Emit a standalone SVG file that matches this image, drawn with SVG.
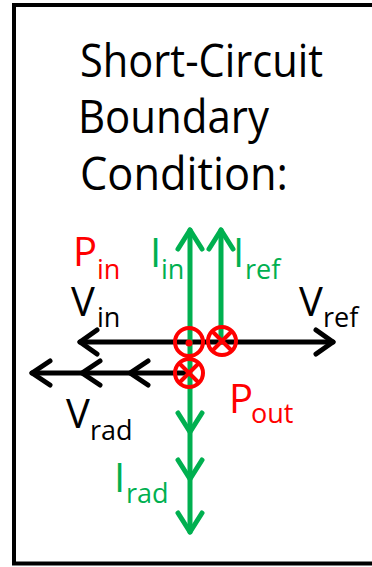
<svg xmlns="http://www.w3.org/2000/svg" width="372" height="567" viewBox="0 0 372 567">
  <style>
    .t { font-family: "Open Sans", "Liberation Sans", sans-serif; }
    .title { font-size: 45px; fill: #000; }
    .main { font-size: 40px; }
    .sub { font-size: 27px; }
    .blk { fill: #000; }
    .grn { fill: #00B050; }
    .red { fill: #FF0000; }
    .lb { stroke: #000; stroke-width: 5; fill: none; stroke-linecap: round; stroke-linejoin: round; }
    .lg { stroke: #00B050; stroke-width: 5; fill: none; stroke-linecap: round; stroke-linejoin: round; }
    .ring { stroke: #FF0000; stroke-width: 4; fill: none; }
    .cross { stroke: #FF0000; stroke-width: 4; }
  </style>
  <rect id="frame" x="14" y="5" width="380" height="558.5" fill="#fff" stroke="#000" stroke-width="4"/>
  <g id="title" class="t title">
    <text x="80" y="77" textLength="243" lengthAdjust="spacingAndGlyphs">Short-Circuit</text>
    <text x="78" y="133" textLength="191" lengthAdjust="spacingAndGlyphs">Boundary</text>
    <text x="80" y="190" textLength="208" lengthAdjust="spacingAndGlyphs">Condition:</text>
  </g>
  <g id="connectors">
    <!-- black voltage arrows -->
    <path class="lb" d="M80,342 H333"/>
    <path class="lb" d="M97,330 L80,342 L97,354"/>
    <path class="lb" d="M316,330 L333,342 L316,354"/>
    <path class="lb" d="M32,373 H189"/>
    <path class="lb" d="M50,361 L32,373 L50,385"/>
    <path class="lb" d="M100,361 L82,373 L100,385"/>
    <path class="lb" d="M148,361 L130,373 L148,385"/>
    <!-- green current arrows -->
    <path class="lg" d="M190,230 V532"/>
    <path class="lg" d="M178,249 L190,230 L202,249"/>
    <path class="lg" d="M178,413 L190,432 L202,413"/>
    <path class="lg" d="M178,460 L190,479 L202,460"/>
    <path class="lg" d="M178,513 L190,532 L202,513"/>
    <path class="lg" d="M221,230 V342"/>
    <path class="lg" d="M209,249 L221,230 L233,249"/>
  </g>
  <g id="port-in">
    <circle class="ring" cx="189" cy="342" r="14"/>
    <circle cx="189" cy="343" r="3.5" fill="#FF0000"/>
  </g>
  <g id="port-ref">
    <circle class="ring" cx="222" cy="341" r="14"/>
    <path class="cross" d="M212,331 L232,351 M232,331 L212,351"/>
  </g>
  <g id="port-out">
    <circle class="ring" cx="189" cy="373" r="14"/>
    <path class="cross" d="M179,363 L199,383 M199,363 L179,383"/>
  </g>
  <g id="label-Pin" class="t red">
    <text class="main" x="73" y="266">P</text>
    <text class="sub" x="97" y="279">in</text>
  </g>
  <g id="label-Iin" class="t grn">
    <text class="main" x="150" y="267">I</text>
    <text class="sub" x="161" y="279">in</text>
  </g>
  <g id="label-Iref" class="t grn">
    <text class="main" x="233" y="267">I</text>
    <text class="sub" x="245" y="279">ref</text>
  </g>
  <g id="label-Vin" class="t blk">
    <text class="main" x="71" y="316">V</text>
    <text class="sub" x="97" y="327">in</text>
  </g>
  <g id="label-Vref" class="t blk">
    <text class="main" x="299" y="316">V</text>
    <text class="sub" x="323" y="327">ref</text>
  </g>
  <g id="label-Vrad" class="t blk">
    <text class="main" x="66" y="428">V</text>
    <text class="sub" x="90" y="440">rad</text>
  </g>
  <g id="label-Pout" class="t red">
    <text class="main" x="229" y="413">P</text>
    <text class="sub" x="251" y="423">out</text>
  </g>
  <g id="label-Irad" class="t grn">
    <text class="main" x="114" y="492">I</text>
    <text class="sub" x="126" y="503">rad</text>
  </g>
</svg>
